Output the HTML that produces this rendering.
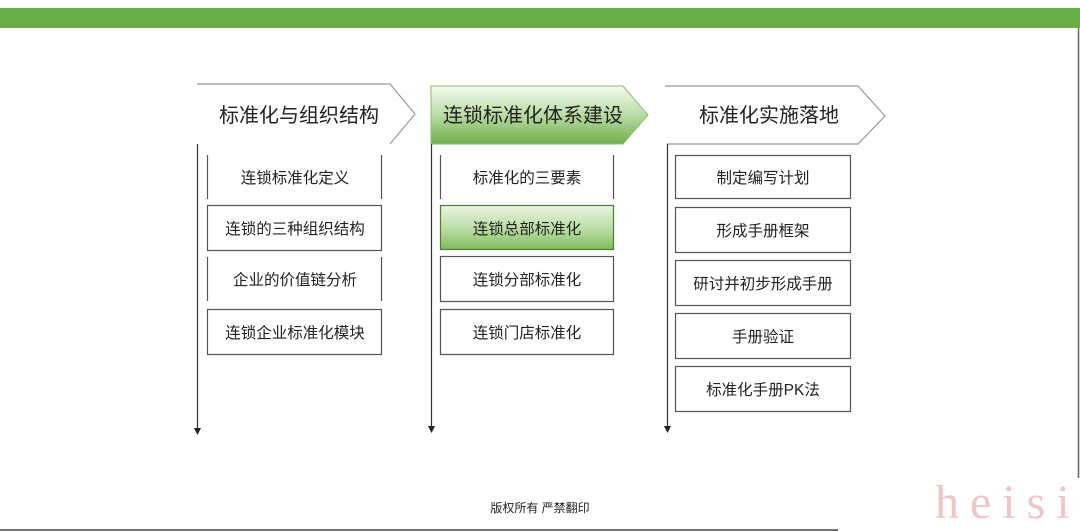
<!DOCTYPE html>
<html><head><meta charset="utf-8"><style>
html,body{margin:0;padding:0;background:#fff;width:1080px;height:531px;overflow:hidden}
svg text{font-family:"Liberation Sans","Noto Sans CJK SC",sans-serif;fill:#222}
</style></head><body>
<svg width="1080" height="531" viewBox="0 0 1080 531" xmlns="http://www.w3.org/2000/svg">
<defs>
<linearGradient id="g1" x1="0" y1="0" x2="0" y2="1">
<stop offset="0" stop-color="#f4faf0"/><stop offset="0.5" stop-color="#b9dca4"/><stop offset="1" stop-color="#6fae4a"/></linearGradient>
<linearGradient id="g2" x1="0" y1="0" x2="0" y2="1">
<stop offset="0" stop-color="#e9f5e2"/><stop offset="0.6" stop-color="#b4d99c"/><stop offset="1" stop-color="#7fba5a"/></linearGradient>
</defs>
<rect x="0" y="8" width="1080" height="20" fill="#6aac46"/>
<line x1="1078.5" y1="28" x2="1078.5" y2="478" stroke="#666" stroke-width="1.5"/>
<line x1="0" y1="530" x2="838" y2="530" stroke="#444" stroke-width="1.5"/>
<g fill="none" stroke="#999" stroke-width="1.2">
<path d="M197,84 L390,84 L415,114 L390,144"/>
<path d="M665,86 L858,86 L885,116 L858,144 L667,144"/>
</g>
<path d="M431,86 L623,86 L648,115 L623,144 L431,144 Z" fill="url(#g1)" stroke="#8cbf6c" stroke-width="1"/>
<g stroke="#333" stroke-width="1.2">
<line x1="197.5" y1="144" x2="197.5" y2="430"/>
<line x1="431.5" y1="144" x2="431.5" y2="428"/>
<line x1="667.5" y1="144" x2="667.5" y2="428"/>
</g>
<g fill="#222">
<path d="M194,428 L201,428 L197.5,435 Z"/>
<path d="M428,426 L435,426 L431.5,433 Z"/>
<path d="M664,426 L671,426 L667.5,433 Z"/>
</g>
<g fill="none" stroke="#555" stroke-width="1.2">
<line x1="207.5" y1="155" x2="207.5" y2="199"/><line x1="381.5" y1="155" x2="381.5" y2="199"/>
<rect x="207.5" y="205.5" width="174" height="45"/>
<line x1="207.5" y1="257" x2="207.5" y2="301"/><line x1="381.5" y1="257" x2="381.5" y2="301"/>
<rect x="207.5" y="309.5" width="174" height="45"/>
<line x1="440.5" y1="155" x2="440.5" y2="199"/><line x1="613.5" y1="155" x2="613.5" y2="199"/>
<rect x="440.5" y="256.5" width="173" height="45"/>
<rect x="440.5" y="309.5" width="173" height="45"/>
<rect x="675.5" y="155.5" width="175" height="43"/>
<rect x="675.5" y="207.5" width="175" height="45"/>
<rect x="675.5" y="260.5" width="175" height="45"/>
<rect x="675.5" y="313.5" width="175" height="45"/>
<rect x="675.5" y="366.5" width="175" height="45"/>
</g>
<rect x="440.5" y="205.5" width="173" height="44" fill="url(#g2)" stroke="#4f7f35" stroke-width="1.2"/>
<g font-size="20" text-anchor="middle">
<text x="299" y="122">标准化与组织结构</text>
<text x="533" y="122">连锁标准化体系建设</text>
<text x="769" y="122">标准化实施落地</text>
</g>
<g font-size="15.5" text-anchor="middle">
<text x="295" y="183">连锁标准化定义</text>
<text x="295" y="234">连锁的三种组织结构</text>
<text x="295" y="285">企业的价值链分析</text>
<text x="295" y="338">连锁企业标准化模块</text>
<text x="527" y="183">标准化的三要素</text>
<text x="527" y="234">连锁总部标准化</text>
<text x="527" y="285">连锁分部标准化</text>
<text x="527" y="338">连锁门店标准化</text>
<text x="763" y="183">制定编写计划</text>
<text x="763" y="236">形成手册框架</text>
<text x="763" y="289">研讨并初步形成手册</text>
<text x="763" y="342">手册验证</text>
<text x="763" y="395">标准化手册PK法</text>
</g>
<text x="540" y="512" font-size="12" text-anchor="middle">版权所有  严禁翻印</text>
<text x="935" y="518" font-size="48" style="font-family:'Liberation Serif',serif;fill:#f2c4c8;letter-spacing:11px">heisi</text>
</svg>
</body></html>
